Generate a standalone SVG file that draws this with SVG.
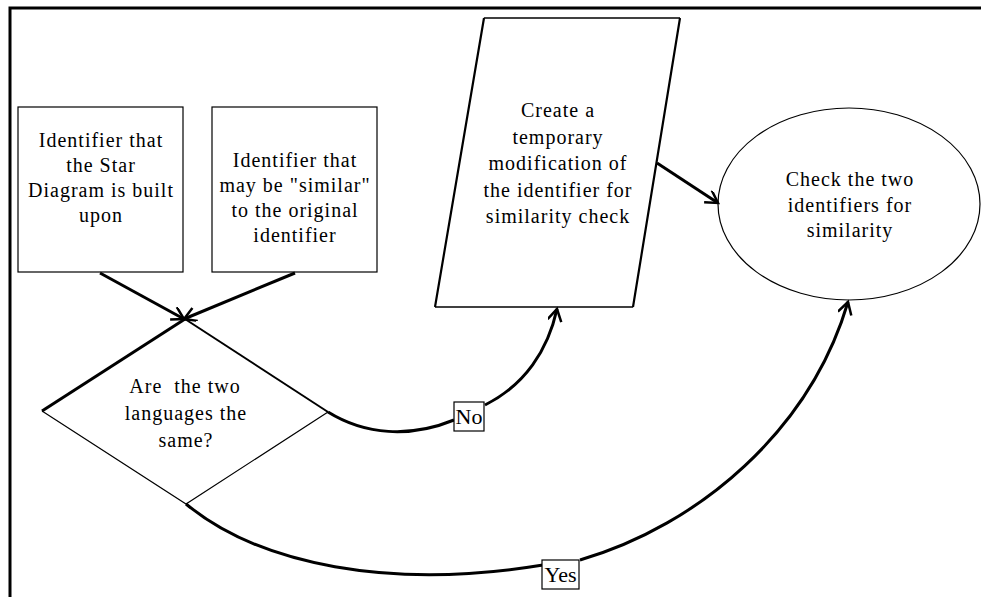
<svg xmlns="http://www.w3.org/2000/svg" width="981" height="597" viewBox="0 0 981 597">
  <style>
    .shape { fill: #fff; stroke: #000; stroke-width: 1.2; }
    .txt { font-family: 'Liberation Serif', 'DejaVu Serif', serif; font-size: 20px; letter-spacing: 1px; fill: #000; text-anchor: middle; }
    .lbl { font-family: 'Liberation Serif', 'DejaVu Serif', serif; font-size: 22px; fill: #000; text-anchor: middle; }
    .conn { fill: none; stroke: #000; stroke-width: 3; }
  </style>
  <defs>
    <marker id="arrow" markerUnits="userSpaceOnUse" markerWidth="18" markerHeight="18" refX="14" refY="7" orient="auto">
      <path d="M2,0 L14,7 L2,14" fill="none" stroke="#000" stroke-width="2.5"/>
    </marker>
  </defs>

  <rect width="981" height="597" fill="#fff"/>
  <!-- page frame -->
  <path d="M10,597 L10,8 L981,8" fill="none" stroke="#000" stroke-width="3"/>

  <g id="source-identifier">
    <rect class="shape" x="18" y="107" width="165" height="165"/>
    <text class="txt" font-family="Liberation Serif, serif" x="101" y="147">Identifier that</text>
    <text class="txt" font-family="Liberation Serif, serif" x="101" y="172">the Star</text>
    <text class="txt" font-family="Liberation Serif, serif" x="101" y="197">Diagram is built</text>
    <text class="txt" font-family="Liberation Serif, serif" x="101" y="222">upon</text>
  </g>

  <g id="candidate-identifier">
    <rect class="shape" x="212" y="107" width="165" height="165"/>
    <text class="txt" x="295" y="167">Identifier that</text>
    <text class="txt" x="295" y="192">may be "similar"</text>
    <text class="txt" x="295" y="217">to the original</text>
    <text class="txt" x="295" y="242">identifier</text>
  </g>

  <g id="language-decision">
    <path d="M42,411 L185,319 L328,412 L186,504 Z" fill="#fff" stroke="none"/>
    <path d="M42,411 L185,319" stroke="#000" stroke-width="3" fill="none"/>
    <path d="M185,319 L328,412" stroke="#000" stroke-width="2" fill="none"/>
    <path d="M328,412 L186,504 L42,411" stroke="#000" stroke-width="1.2" fill="none"/>
    <text class="txt" x="185" y="393" xml:space="preserve">Are  the two</text>
    <text class="txt" x="186" y="420">languages the</text>
    <text class="txt" x="186" y="447">same?</text>
  </g>

  <g id="temporary-modification">
    <path d="M484,18 L680,18 L633,307 L435,307 Z" fill="#fff" stroke="none"/>
    <path d="M484,18 L680,18" stroke="#000" stroke-width="1.5" fill="none"/>
    <path d="M435,307 L633,307" stroke="#000" stroke-width="1.5" fill="none"/>
    <path d="M484,18 L435,307 M680,18 L633,307" stroke="#000" stroke-width="2.2" fill="none"/>
    <text class="txt" x="558" y="117">Create a</text>
    <text class="txt" x="558" y="143.5">temporary</text>
    <text class="txt" x="558" y="170">modification of</text>
    <text class="txt" x="558" y="196.5">the identifier for</text>
    <text class="txt" x="558" y="223">similarity check</text>
  </g>

  <g id="similarity-check">
    <ellipse class="shape" cx="849" cy="204" rx="131" ry="96"/>
    <text class="txt" x="850" y="186">Check the two</text>
    <text class="txt" x="850" y="211.5">identifiers for</text>
    <text class="txt" x="850" y="237">similarity</text>
  </g>

  <g id="connectors">
    <path class="conn" d="M100,273 L184,319" marker-end="url(#arrow)"/>
    <path class="conn" d="M295,273 L184,319" marker-end="url(#arrow)"/>
    <path class="conn" d="M657,163 L718,203" marker-end="url(#arrow)"/>
    <path class="conn" d="M328,412 C365,435 410,438 454,420"/>
    <path class="conn" d="M485,405 C525,385 548,350 557,309" marker-end="url(#arrow)"/>
    <path class="conn" d="M186,504 C260,565 390,590 543,565"/>
    <path class="conn" d="M580,560 C700,525 810,430 848,302" marker-end="url(#arrow)"/>
    <g id="label-no">
      <rect class="shape" x="454" y="402" width="30" height="29"/>
      <text class="lbl" x="469" y="424">No</text>
    </g>
    <g id="label-yes">
      <rect class="shape" x="542" y="560" width="37" height="29"/>
      <text class="lbl" x="560.5" y="582">Yes</text>
    </g>
  </g>
</svg>
